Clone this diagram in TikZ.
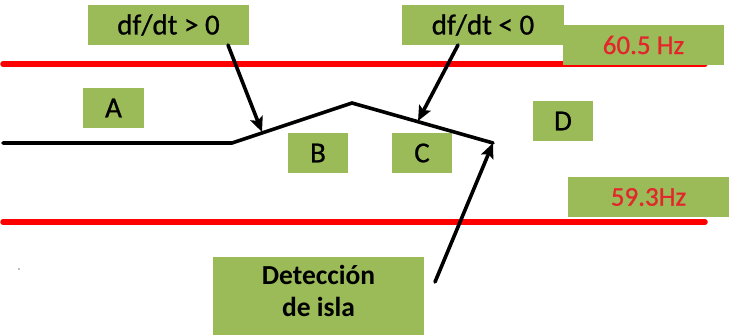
\documentclass[tikz,border=0pt]{standalone}
\usepackage{fontspec}
\setmainfont{Carlito}
\newfontfamily\heavy[FakeBold=0.8]{Carlito}
\usetikzlibrary{arrows.meta}
\definecolor{boxgreen}{HTML}{9BBB59}
\definecolor{hzred}{HTML}{E3262C}
\begin{document}
\begin{tikzpicture}[x=1pt,y=-1pt,
  gbox/.style={fill=boxgreen,draw=none,inner sep=0pt,align=center,font=\heavy\fontsize{29}{34}\selectfont},
  hzbox/.style={gbox,minimum width=161pt,minimum height=40pt,text=hzred,font=\heavy\fontsize{27}{30}\selectfont},
  redline/.style={draw=red,line width=5.5pt,line cap=round},
  curve/.style={draw=black,line width=3.6pt,line join=miter,line cap=round},
  pointer/.style={draw=black,line width=3.6pt,line cap=round,-{Stealth[length=15pt,width=13pt,inset=3pt]}}]
\useasboundingbox (0,0) rectangle (729,335);
% red limit lines
\coordinate (rt0) at (3,64);
\coordinate (rt1) at (705,64);
\coordinate (rb0) at (3,222);
\coordinate (rb1) at (705,222);
\draw[redline] (rt0) -- (rt1);
\draw[redline] (rb0) -- (rb1);
% boxes
\node[gbox,minimum width=161pt,minimum height=40pt] (pos) at (168.5,25) {df/dt > 0};
\node[gbox,minimum width=162pt,minimum height=40pt] (neg) at (483,25) {df/dt < 0};
\node[hzbox] (hi) at (643.5,45) {60.5 Hz};
\node[hzbox] (lo) at (648.5,197) {59.3Hz};
\node[gbox,minimum width=61pt,minimum height=40pt] (A) at (113.5,108) {A};
\node[gbox,minimum width=60pt,minimum height=40pt] (B) at (318,153) {B};
\node[gbox,minimum width=60pt,minimum height=40pt] (C) at (422,153) {C};
\node[gbox,minimum width=60pt,minimum height=40pt] (D) at (563,121) {D};
\node[gbox,minimum width=211pt,minimum height=80pt,font=\bfseries\fontsize{27.5}{32}\selectfont] (det) at (318.5,297) {Detección\\de isla\rule[-12pt]{0pt}{12pt}};
% frequency curve
\coordinate (p0) at (3,143);
\coordinate (p1) at (232,143);
\coordinate (p2) at (352,103);
\coordinate (p3) at (493,143);
\draw[curve] (p0) -- (p1) -- (p2) -- (p3);
% pointers
\coordinate (s1) at (228,45);
\coordinate (t1) at (262,132);
\coordinate (s2) at (458,45);
\coordinate (t2) at (418,121);
\coordinate (s3) at (435,282);
\draw[pointer] (s1) -- (t1);
\draw[pointer] (s2) -- (t2);
\draw[pointer] (s3) -- (p3);
% stray dot
\fill[gray] (19,269) circle (0.8pt);
\end{tikzpicture}
\end{document}
